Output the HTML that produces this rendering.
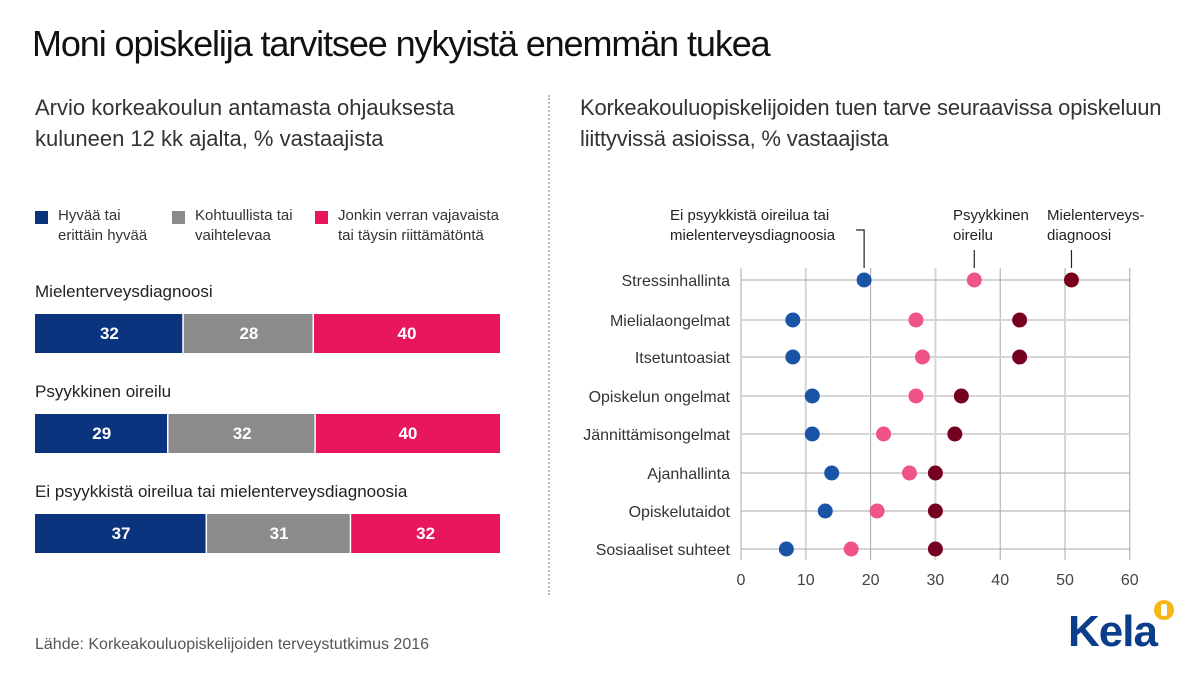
<!DOCTYPE html>
<html><head><meta charset="utf-8">
<style>
body{margin:0;width:1200px;height:675px;background:#fff;font-family:"Liberation Sans",sans-serif;color:#222;overflow:hidden;position:relative}
.t{position:absolute;white-space:nowrap}
</style></head><body>
<div class="t" style="left:32px;top:23px;font-size:36px;letter-spacing:-1.1px;color:#111">Moni opiskelija tarvitsee nykyistä enemmän tukea</div>
<div class="t" style="left:35px;top:92px;font-size:22px;line-height:31px;color:#333">Arvio korkeakoulun antamasta ohjauksesta<br>kuluneen 12 kk ajalta, % vastaajista</div>
<div class="t" style="left:580px;top:92px;font-size:22px;line-height:31px;color:#333;letter-spacing:-0.2px">Korkeakouluopiskelijoiden tuen tarve seuraavissa opiskeluun<br>liittyvissä asioissa, % vastaajista</div>
<div style="position:absolute;left:548px;top:95px;height:500px;border-left:2px dotted #bbb"></div>
<svg width="1200" height="675" style="position:absolute;left:0;top:0" id="svg"></svg>
<div class="t" style="left:35px;top:636px;font-size:16px;color:#555">Lähde: Korkeakouluopiskelijoiden terveystutkimus 2016</div>
<div class="t" style="left:1068px;top:607px;font-size:44px;font-weight:bold;color:#0a3d8a;letter-spacing:-1px">Kela</div>
<div style="position:absolute;left:1154px;top:600px;width:20px;height:20px;border-radius:50%;background:#f6b716"><div style="position:absolute;left:7px;top:4px;width:6px;height:12px;background:#fff;border-radius:2px"></div></div>
<script>
const barGroups=["Mielenterveysdiagnoosi","Psyykkinen oireilu","Ei psyykkistä oireilua tai mielenterveysdiagnoosia"];
const good=[32,29,37];
const medium=[28,32,31];
const poor=[40,40,32];
const legendLabels=["Hyvää tai<br>erittäin hyvää","Kohtuullista tai<br>vaihtelevaa","Jonkin verran vajavaista<br>tai täysin riittämätöntä"];
const categories=["Stressinhallinta","Mielialaongelmat","Itsetuntoasiat","Opiskelun ongelmat","Jännittämisongelmat","Ajanhallinta","Opiskelutaidot","Sosiaaliset suhteet"];
const noSymptoms=[19,8,8,11,11,14,13,7];
const symptoms=[36,27,28,27,22,26,21,17];
const diagnosis=[51,43,43,34,33,30,30,30];
const xTicks=[0,10,20,30,40,50,60];
const NS="http://www.w3.org/2000/svg";
const svg=document.getElementById('svg');
function mk(tag,a,p){const e=document.createElementNS(NS,tag);for(const k in a)e.setAttribute(k,a[k]);(p||svg).appendChild(e);return e;}
function div(html,style){const d=document.createElement('div');d.className='t';d.innerHTML=html;d.style.cssText=style;document.body.appendChild(d);return d;}
const barColors=["#0b347e","#8b8b8b","#e8175d"];
const lx=[35,172,315];
legendLabels.forEach((l,i)=>{
 const r=mk('rect',{x:lx[i],y:211,width:13,height:13,fill:barColors[i]});
 
 
 const d=div(l,`left:${lx[i]+23}px;top:206px;font-size:15px;line-height:20px;color:#333`);
 
 
});
const groupY=[314,414,514];
barGroups.forEach((g,i)=>{
 const y=groupY[i];
 const lab=div(g,`left:35px;top:${y-32}px;font-size:17px;color:#222`);
 
 
 const vals=[good[i],medium[i],poor[i]];
 const total=vals[0]+vals[1]+vals[2];
 const k=465/total;
 const bx=v=>35+v*k;
 let acc=0;
 vals.forEach((v,j)=>{
  const r=mk('rect',{x:bx(acc),y:y,width:v*k-(j<2?1.5:0),height:39,fill:barColors[j]});
  
  
  const t=mk('text',{x:bx(acc+v/2),y:y+25,'text-anchor':'middle','font-size':17,'font-weight':'bold',fill:'#fff','font-family':'Liberation Sans'});
  t.textContent=v;
  
  
  acc+=v;
 });
});
const px=v=>741+v*6.48;
const rowY=[280,320,357,396,434,473,511,549];
xTicks.forEach((t,i)=>{
 const l=mk('line',{x1:px(t),x2:px(t),y1:268,y2:560,stroke:i%2?'#d6d6d6':'#a8a8a8','stroke-width':i%2?2:1});
 
 
 const tx=mk('text',{x:px(t),y:585,'text-anchor':'middle','font-size':16,fill:'#444','font-family':'Liberation Sans'});
 tx.textContent=t;
 
 
});
categories.forEach((c,i)=>{
 const y=rowY[i];
 const l=mk('line',{x1:px(0),x2:px(60),y1:y,y2:y,stroke:(i>0&&i<5)?'#d6d6d6':'#a8a8a8','stroke-width':(i>0&&i<5)?2:1});
 
 
 const t=mk('text',{x:730,y:y+6,'text-anchor':'end','font-size':16,fill:'#333','font-family':'Liberation Sans'});
 t.textContent=c;
 
 
 [[noSymptoms,'#1a54a6'],[symptoms,'#f05388'],[diagnosis,'#760020']].forEach((s,j)=>{
  const d=mk('circle',{cx:px(s[0][i]),cy:y,r:7.5,fill:s[1]});
  
  
 });
});
const ann=[["Ei psyykkistä oireilua tai<br>mielenterveysdiagnoosia",noSymptoms[0],670,'ann-no-symptoms',true],["Psyykkinen<br>oireilu",symptoms[0],953,'ann-symptoms',false],["Mielenterveys-<br>diagnoosi",diagnosis[0],1047,'ann-diagnosis',false]];
ann.forEach(a=>{
 const d=div(a[0],`left:${a[2]}px;top:206px;font-size:15px;line-height:20px;color:#222`);
 
 
 const x=px(a[1]);
 if(a[4]){mk('polyline',{points:`${x-8},230 ${x},230 ${x},268`,fill:'none',stroke:'#222','stroke-width':1.2});}
 else mk('line',{x1:x,x2:x,y1:250,y2:268,stroke:'#222','stroke-width':1.2});
});
</script>
</body></html>
